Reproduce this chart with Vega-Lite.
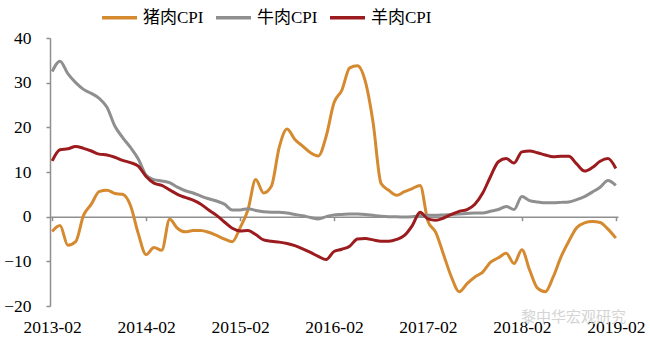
{
  "$schema": "https://vega.github.io/schema/vega-lite/v6.json",
  "width": 568,
  "height": 268,
  "autosize": {"type": "none"},
  "padding": {"left": 50, "top": 38, "right": 32, "bottom": 43},
  "background": "white",
  "config": {"view": {"stroke": null}, "axis": {"grid": false}},
  "title": {"text": "黎中华宏观研究", "orient": "bottom", "anchor": "end", "frame": "group", "color": "#d4d4d4", "fontSize": 15, "font": "Noto Sans CJK SC", "fontWeight": "normal", "offset": -26, "dx": 8},
  "data": {"values": [
    {"date": "2013-02", "猪肉CPI": -3.3, "牛肉CPI": 32.5, "羊肉CPI": 12.5},
    {"date": "2013-03", "猪肉CPI": -2.0, "牛肉CPI": 34.8, "羊肉CPI": 15.0},
    {"date": "2013-04", "猪肉CPI": -6.4, "牛肉CPI": 32.0, "羊肉CPI": 15.2},
    {"date": "2013-05", "猪肉CPI": -5.6, "牛肉CPI": 30.0, "羊肉CPI": 15.7},
    {"date": "2013-06", "猪肉CPI": 0.3, "牛肉CPI": 28.5, "羊肉CPI": 15.3},
    {"date": "2013-07", "猪肉CPI": 2.8, "牛肉CPI": 27.6, "羊肉CPI": 14.7},
    {"date": "2013-08", "猪肉CPI": 5.6, "牛肉CPI": 26.5, "羊肉CPI": 14.0},
    {"date": "2013-09", "猪肉CPI": 5.9, "牛肉CPI": 24.5, "羊肉CPI": 13.8},
    {"date": "2013-10", "猪肉CPI": 5.2, "牛肉CPI": 20.3, "羊肉CPI": 13.3},
    {"date": "2013-11", "猪肉CPI": 5.0, "牛肉CPI": 17.7, "羊肉CPI": 12.6},
    {"date": "2013-12", "猪肉CPI": 2.5, "牛肉CPI": 15.5, "羊肉CPI": 12.1},
    {"date": "2014-01", "猪肉CPI": -3.8, "牛肉CPI": 12.9, "羊肉CPI": 11.3},
    {"date": "2014-02", "猪肉CPI": -8.5, "牛肉CPI": 9.3, "羊肉CPI": 9.0},
    {"date": "2014-03", "猪肉CPI": -6.9, "牛肉CPI": 8.3, "羊肉CPI": 7.5},
    {"date": "2014-04", "猪肉CPI": -7.5, "牛肉CPI": 8.0, "羊肉CPI": 7.0},
    {"date": "2014-05", "猪肉CPI": -0.6, "牛肉CPI": 7.6, "羊肉CPI": 6.0},
    {"date": "2014-06", "猪肉CPI": -2.6, "牛肉CPI": 6.6, "羊肉CPI": 5.0},
    {"date": "2014-07", "猪肉CPI": -3.4, "牛肉CPI": 5.8, "羊肉CPI": 4.3},
    {"date": "2014-08", "猪肉CPI": -3.1, "牛肉CPI": 5.3, "羊肉CPI": 3.7},
    {"date": "2014-09", "猪肉CPI": -3.1, "牛肉CPI": 4.6, "羊肉CPI": 2.8},
    {"date": "2014-10", "猪肉CPI": -3.5, "牛肉CPI": 4.0, "羊肉CPI": 1.5},
    {"date": "2014-11", "猪肉CPI": -4.2, "牛肉CPI": 3.5, "羊肉CPI": 0.3},
    {"date": "2014-12", "猪肉CPI": -5.0, "牛肉CPI": 2.8, "羊肉CPI": -1.2},
    {"date": "2015-01", "猪肉CPI": -5.6, "牛肉CPI": 1.5, "羊肉CPI": -2.6},
    {"date": "2015-02", "猪肉CPI": -2.5, "牛肉CPI": 1.5, "羊肉CPI": -3.2},
    {"date": "2015-03", "猪肉CPI": 1.5, "牛肉CPI": 1.8, "羊肉CPI": -3.1},
    {"date": "2015-04", "猪肉CPI": 8.3, "牛肉CPI": 1.4, "羊肉CPI": -4.0},
    {"date": "2015-05", "猪肉CPI": 5.3, "牛肉CPI": 1.1, "羊肉CPI": -5.2},
    {"date": "2015-06", "猪肉CPI": 6.8, "牛肉CPI": 1.0, "羊肉CPI": -5.5},
    {"date": "2015-07", "猪肉CPI": 15.5, "牛肉CPI": 1.0, "羊肉CPI": -5.7},
    {"date": "2015-08", "猪肉CPI": 19.6, "牛肉CPI": 0.8, "羊肉CPI": -6.0},
    {"date": "2015-09", "猪肉CPI": 17.3, "牛肉CPI": 0.5, "羊肉CPI": -6.5},
    {"date": "2015-10", "猪肉CPI": 15.8, "牛肉CPI": 0.2, "羊肉CPI": -7.2},
    {"date": "2015-11", "猪肉CPI": 14.3, "牛肉CPI": -0.2, "羊肉CPI": -8.0},
    {"date": "2015-12", "猪肉CPI": 13.6, "牛肉CPI": -0.5, "羊肉CPI": -8.9},
    {"date": "2016-01", "猪肉CPI": 18.0, "牛肉CPI": 0.0, "羊肉CPI": -9.6},
    {"date": "2016-02", "猪肉CPI": 25.5, "牛肉CPI": 0.4, "羊肉CPI": -7.8},
    {"date": "2016-03", "猪肉CPI": 28.3, "牛肉CPI": 0.5, "羊肉CPI": -7.3},
    {"date": "2016-04", "猪肉CPI": 33.3, "牛肉CPI": 0.6, "羊肉CPI": -6.6},
    {"date": "2016-05", "猪肉CPI": 33.8, "牛肉CPI": 0.6, "羊肉CPI": -5.0},
    {"date": "2016-06", "猪肉CPI": 30.3, "牛肉CPI": 0.5, "羊肉CPI": -4.9},
    {"date": "2016-07", "猪肉CPI": 21.0, "牛肉CPI": 0.3, "羊肉CPI": -5.2},
    {"date": "2016-08", "猪肉CPI": 7.5, "牛肉CPI": 0.1, "羊肉CPI": -5.5},
    {"date": "2016-09", "猪肉CPI": 5.9, "牛肉CPI": 0.0, "羊肉CPI": -5.5},
    {"date": "2016-10", "猪肉CPI": 4.8, "牛肉CPI": 0.0, "羊肉CPI": -5.1},
    {"date": "2016-11", "猪肉CPI": 5.6, "牛肉CPI": -0.1, "羊肉CPI": -4.2},
    {"date": "2016-12", "猪肉CPI": 6.3, "牛肉CPI": 0.0, "羊肉CPI": -2.0},
    {"date": "2017-01", "猪肉CPI": 7.0, "牛肉CPI": 0.2, "羊肉CPI": 1.0},
    {"date": "2017-02", "猪肉CPI": -1.0, "牛肉CPI": 0.3, "羊肉CPI": -0.5},
    {"date": "2017-03", "猪肉CPI": -3.5, "牛肉CPI": 0.3, "羊肉CPI": -0.8},
    {"date": "2017-04", "猪肉CPI": -8.5, "牛肉CPI": 0.4, "羊肉CPI": -0.3},
    {"date": "2017-05", "猪肉CPI": -13.5, "牛肉CPI": 0.5, "羊肉CPI": 0.5},
    {"date": "2017-06", "猪肉CPI": -16.8, "牛肉CPI": 0.6, "羊肉CPI": 1.2},
    {"date": "2017-07", "猪肉CPI": -15.0, "牛肉CPI": 0.7, "羊肉CPI": 1.6},
    {"date": "2017-08", "猪肉CPI": -13.5, "牛肉CPI": 0.8, "羊肉CPI": 2.8},
    {"date": "2017-09", "猪肉CPI": -12.4, "牛肉CPI": 0.8, "羊肉CPI": 5.3},
    {"date": "2017-10", "猪肉CPI": -10.2, "牛肉CPI": 1.2, "羊肉CPI": 9.0},
    {"date": "2017-11", "猪肉CPI": -9.2, "牛肉CPI": 1.6, "羊肉CPI": 12.3},
    {"date": "2017-12", "猪肉CPI": -8.2, "牛肉CPI": 2.3, "羊肉CPI": 13.0},
    {"date": "2018-01", "猪肉CPI": -10.5, "牛肉CPI": 1.6, "羊肉CPI": 12.0},
    {"date": "2018-02", "猪肉CPI": -7.4, "牛肉CPI": 4.5, "羊肉CPI": 14.5},
    {"date": "2018-03", "猪肉CPI": -12.0, "牛肉CPI": 3.6, "羊肉CPI": 14.7},
    {"date": "2018-04", "猪肉CPI": -16.0, "牛肉CPI": 3.3, "羊肉CPI": 14.3},
    {"date": "2018-05", "猪肉CPI": -16.8, "牛肉CPI": 3.1, "羊肉CPI": 13.8},
    {"date": "2018-06", "猪肉CPI": -13.5, "牛肉CPI": 3.1, "羊肉CPI": 13.4},
    {"date": "2018-07", "猪肉CPI": -9.0, "牛肉CPI": 3.2, "羊肉CPI": 13.5},
    {"date": "2018-08", "猪肉CPI": -5.5, "牛肉CPI": 3.3, "羊肉CPI": 13.5},
    {"date": "2018-09", "猪肉CPI": -2.5, "牛肉CPI": 3.8, "羊肉CPI": 11.8},
    {"date": "2018-10", "猪肉CPI": -1.4, "牛肉CPI": 4.5, "羊肉CPI": 10.2},
    {"date": "2018-11", "猪肉CPI": -1.1, "牛肉CPI": 5.5, "羊肉CPI": 11.0},
    {"date": "2018-12", "猪肉CPI": -1.3, "牛肉CPI": 6.6, "羊肉CPI": 12.4},
    {"date": "2019-01", "猪肉CPI": -2.8, "牛肉CPI": 8.1, "羊肉CPI": 13.0},
    {"date": "2019-02", "猪肉CPI": -4.8, "牛肉CPI": 7.0, "羊肉CPI": 10.8}
  ]},
  "transform": [{"fold": ["猪肉CPI", "牛肉CPI", "羊肉CPI"], "as": ["series", "value"]}],
  "mark": {"type": "line", "interpolate": "monotone", "strokeWidth": 3},
  "encoding": {
    "x": {
      "field": "date", "type": "ordinal",
      "scale": {"type": "point", "padding": 0.28},
      "axis": {
        "values": ["2013-02", "2014-02", "2015-02", "2016-02", "2017-02", "2018-02", "2019-02"],
        "labelAngle": 0, "offset": -89.3,
        "domainColor": "#8f8f8f", "domainWidth": 1.5,
        "tickColor": "#8f8f8f", "tickWidth": 1.5, "tickSize": 4,
        "labelPadding": 98, "labelFont": "Liberation Serif", "labelFontSize": 17.5, "labelColor": "#000000",
        "title": null
      }
    },
    "y": {
      "field": "value", "type": "quantitative",
      "scale": {"domain": [-20, 40], "nice": false},
      "axis": {
        "values": [-20, -10, 0, 10, 20, 30, 40],
        "domainColor": "#8f8f8f", "domainWidth": 1.5,
        "tickColor": "#8f8f8f", "tickWidth": 1.5, "tickSize": 4,
        "labelPadding": 15, "labelFont": "Liberation Serif", "labelFontSize": 17.5, "labelColor": "#000000",
        "title": null
      }
    },
    "color": {
      "field": "series", "type": "nominal",
      "scale": {"domain": ["猪肉CPI", "牛肉CPI", "羊肉CPI"], "range": ["#d58a30", "#8f8f8f", "#9b1b1e"]},
      "legend": {
        "orient": "none", "legendX": 50, "legendY": -40, "direction": "horizontal",
        "title": null, "symbolType": "stroke", "symbolSize": 1225, "symbolStrokeWidth": 3.5,
        "labelFont": "Liberation Serif, Noto Sans CJK SC", "labelFontSize": 17, "labelColor": "#000000",
        "labelOffset": 4, "columnPadding": 5
      }
    }
  }
}
